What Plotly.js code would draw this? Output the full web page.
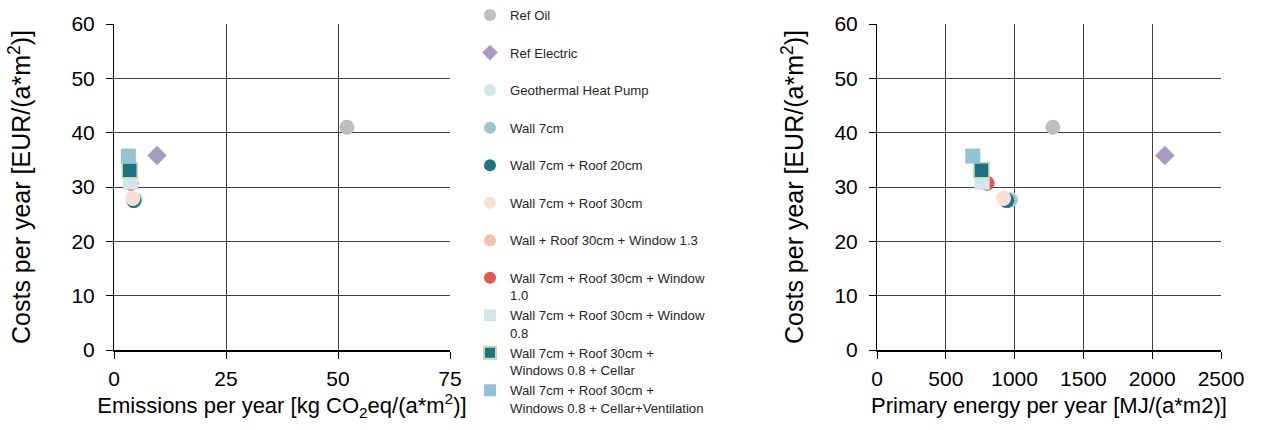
<!DOCTYPE html>
<html>
<head>
<meta charset="utf-8">
<script src="https://cdn.plot.ly/plotly-3.0.1.min.js"></script>
<style>
  html, body { margin: 0; padding: 0; background: #ffffff; }
  #chart { width: 1264px; height: 430px; }
</style>
</head>
<body>
<div id="chart"></div>
<script>
// Renovation variants: yearly cost versus emissions and versus primary energy
const variants = [
  "Ref Oil",
  "Ref Electric",
  "Geothermal Heat Pump",
  "Wall 7cm",
  "Wall 7cm + Roof 20cm",
  "Wall 7cm + Roof 30cm",
  "Wall + Roof 30cm + Window 1.3",
  "Wall 7cm + Roof 30cm + Window<br>1.0",
  "Wall 7cm + Roof 30cm + Window<br>0.8",
  "Wall 7cm + Roof 30cm +<br>Windows 0.8 + Cellar",
  "Wall 7cm + Roof 30cm +<br>Windows 0.8 + Cellar+Ventilation"
];

// kg CO2eq per (a*m2)
const emissions = [52.0, 9.6, 4.8, 4.6, 4.4, 4.2, 3.8, 3.8, 3.7, 3.5, 3.2];
// MJ per (a*m2)
const primaryEnergy = [1278, 2092, 975, 966, 942, 920, 792, 800, 764, 759, 696];
// EUR per (a*m2)
const costs = [41.0, 35.8, 27.7, 27.6, 27.5, 27.9, 30.8, 30.7, 30.9, 33.1, 35.7];

const colors = ["#bfbfbf", "#a69bc1", "#d2e7ec", "#9cc5cf", "#1b7586", "#fadfd5",
                "#f4bfab", "#e3594e", "#d3e6eb", "#1a7485", "#93c4d6"];
const symbols = ["circle", "diamond", "circle", "circle", "circle", "circle",
                 "circle", "circle", "square", "square", "square"];
const outlineColors = ["#ffffff", "#ffffff", "#ffffff", "#ffffff", "#ffffff", "#ffffff",
                       "#ffffff", "#ffffff", "#ffffff", "#c6d9a6", "#ffffff"];
const outlineWidths = [0, 0, 0, 0, 0, 0, 0, 0, 0, 1.5, 0];

const FONT = "Liberation Sans, Arial, sans-serif";
const W = 1264;

// Every legend entry takes two text lines so all rows get the same height
function legendLabel(name) {
  return name.indexOf("<br>") >= 0 ? name : name + "<br>\u00a0";
}

const traces = [];
variants.forEach((name, i) => {
  const marker = {
    color: colors[i],
    symbol: symbols[i],
    size: 15,
    line: { color: outlineColors[i], width: outlineWidths[i] }
  };
  traces.push({
    type: "scatter", mode: "markers",
    x: [emissions[i]], y: [costs[i]],
    xaxis: "x", yaxis: "y",
    name: legendLabel(name),
    legendgroup: "g" + i,
    marker: marker,
    hoverinfo: "x+y+name"
  });
  traces.push({
    type: "scatter", mode: "markers",
    x: [primaryEnergy[i]], y: [costs[i]],
    xaxis: "x2", yaxis: "y2",
    name: legendLabel(name),
    legendgroup: "g" + i,
    showlegend: false,
    marker: marker,
    hoverinfo: "x+y+name"
  });
});

const axisCommon = {
  showgrid: true,
  gridcolor: "#404040",
  gridwidth: 1,
  zeroline: false,
  showline: true,
  linecolor: "#000000",
  ticks: "outside",
  ticklen: 7,
  tickwidth: 1,
  tickcolor: "#000000",
  tickfont: { family: FONT, size: 21, color: "#000000" },
  fixedrange: true
};

const yTitle = "Costs per year [EUR/(a*m<sup>2</sup>)]";
const xTitleFont = { family: FONT, size: 22, color: "#000000" };
const yTitleFont = { family: FONT, size: 25, color: "#000000" };

const layout = {
  width: 1264,
  height: 430,
  margin: { l: 0, r: 0, t: 24, b: 80 },
  paper_bgcolor: "#ffffff",
  plot_bgcolor: "#ffffff",
  font: { family: FONT, color: "#000000" },
  showlegend: true,
  legend: {
    x: 470 / W, xanchor: "left",
    y: 1.075, yanchor: "top",
    traceorder: "grouped",
    tracegroupgap: 0.2,
    valign: "top",
    itemsizing: "constant",
    maxheight: 428,
    font: { family: FONT, size: 13.2, color: "#262626" },
    bgcolor: "rgba(0,0,0,0)",
    borderwidth: 0
  },
  xaxis: Object.assign({}, axisCommon, {
    domain: [114 / W, 450 / W],
    range: [0, 75],
    dtick: 25,
    tick0: 0,
    linewidth: 2,
    anchor: "y",
    ticklabelstandoff: 2,
    title: { text: "Emissions per year [kg CO<sub>2</sub>eq/(a*m<sup>2</sup>)]",
             font: xTitleFont, standoff: 8 }
  }),
  yaxis: Object.assign({}, axisCommon, {
    domain: [0, 1],
    range: [0, 60],
    dtick: 10,
    tick0: 0,
    linewidth: 1,
    anchor: "x",
    ticklabelstandoff: 7,
    title: { text: yTitle, font: yTitleFont, standoff: 33 }
  }),
  xaxis2: Object.assign({}, axisCommon, {
    domain: [877 / W, 1221 / W],
    range: [0, 2500],
    dtick: 500,
    tick0: 0,
    linewidth: 2,
    anchor: "y2",
    ticklabelstandoff: 2,
    title: { text: "Primary energy per year [MJ/(a*m2)]",
             font: xTitleFont, standoff: 8 }
  }),
  yaxis2: Object.assign({}, axisCommon, {
    domain: [0, 1],
    range: [0, 60],
    dtick: 10,
    tick0: 0,
    linewidth: 1,
    anchor: "x2",
    ticklabelstandoff: 7,
    title: { text: yTitle, font: yTitleFont, standoff: 23 }
  })
};

Plotly.newPlot("chart", traces, layout, { displayModeBar: false, staticPlot: true });
</script>
</body>
</html>
